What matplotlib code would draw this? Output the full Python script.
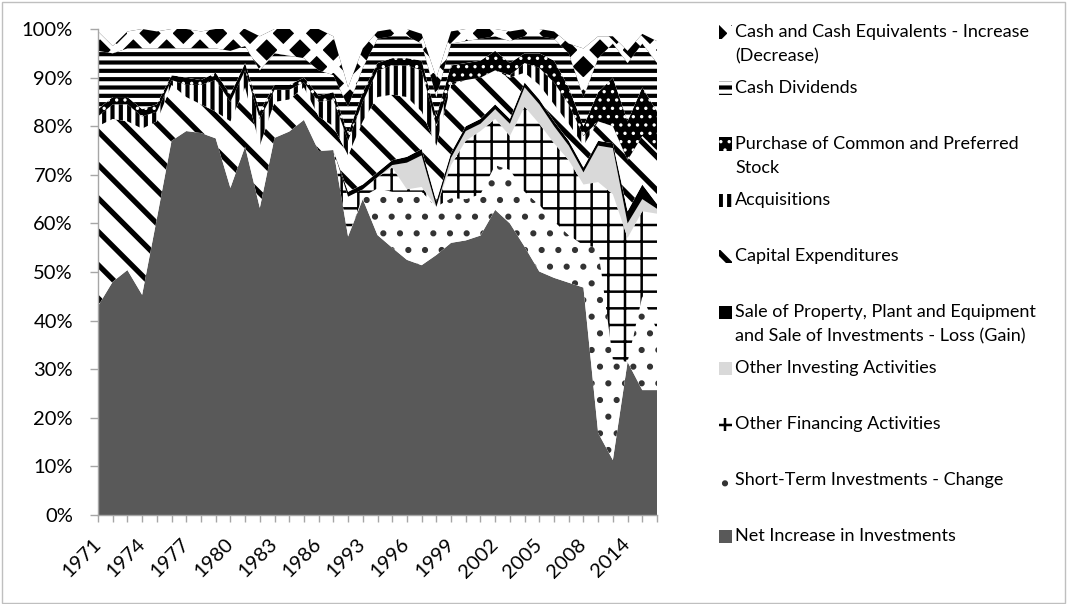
import numpy as np
import matplotlib
matplotlib.use("Agg")
from matplotlib import pyplot as plt
from matplotlib.patches import Rectangle

plt.rcParams["font.family"] = ["Lato", "DejaVu Sans"]

# categories (gaps in the original series: 1988-1991, 2009, 2011, 2013)
years = ["1971", "1972", "1973", "1974", "1975", "1976", "1977", "1978", "1979", "1980",
         "1981", "1982", "1983", "1984", "1985", "1986", "1987", "1992", "1993", "1994",
         "1995", "1996", "1997", "1998", "1999", "2000", "2001", "2002", "2003", "2004",
         "2005", "2006", "2007", "2008", "2010", "2012", "2014", "2015", "2016"]

# share of total, percent
net_investments = [43, 48, 50.4, 45.3, 61, 77, 79, 78.6, 77.5, 67.3, 75.8, 63.2, 77.6, 78.9, 81.3, 74.9, 75.1,
                   57.3, 65, 57.6, 55, 52.5, 51.4, 53.5, 56, 56.5, 57.5, 62.8, 60, 55.2, 50.1, 48.8, 47.8, 46.8,
                   16.9, 11.3, 31.5, 25.7, 25.7]
short_term_change = [0, 0, 0, 0, 0, 0, 0, 0, 0, 0, 0, 0, 0, 0, 0, 0, 0,
                     0, 0.5, 9.6, 11.5, 14, 15.1, 9.9, 9.2, 8.5, 8.5, 9.2, 11, 11.3, 13.7, 11.6, 9.8, 8.7,
                     38.1, 20.7, 0, 19.3, 12.3]
other_financing = [0, 0, 0, 0, 0, 0, 0, 0, 0, 0, 0, 0, 0, 0, 0, 0, 0,
                   8.2, 1.5, 2.3, 5, 0.5, 1, 0, 6.8, 12, 13, 9.5, 7, 17.5, 16.7, 16.1, 15.4, 12.5,
                   13.5, 34, 25.5, 17.5, 24]
other_investing = [0, 0, 0, 0, 0, 0, 0, 0, 0, 0, 0, 0, 0, 0, 0, 0, 0,
                   0, 0, 0, 0.5, 5.5, 6.5, 0, 1.5, 2, 1.5, 2, 2.5, 4, 4, 3.5, 3, 2.5,
                   7.5, 9.5, 3, 2.5, 1]
sale_ppe = [0, 0, 0, 0, 0, 0, 0, 0, 0, 0, 0, 0, 0, 0, 0, 0, 0,
            1, 1, 1, 1, 1.2, 1.3, 1.1, 1, 1, 1, 1, 1, 1, 1, 1, 1, 1,
            1, 1, 2.5, 3, 1]
capex = [37, 33.5, 30.6, 34.2, 20, 11.5, 7, 5.9, 5.5, 13.7, 12.2, 12.8, 7.4, 6.6, 6.7, 7.1, 4.9,
         7.5, 13, 15.5, 13.5, 12.3, 7.7, 11.5, 14, 9.5, 8.5, 7, 8.5, 2, 3, 3.5, 3.5, 4.5,
         4, 3.5, 10.5, 10, 11]
acquisitions = [2, 3, 3.5, 2.5, 2, 1, 2.5, 4, 6.5, 4, 3.5, 5.5, 2.5, 2, 1, 3, 5.5,
                3, 4, 5.5, 6, 6.5, 8.5, 4, 0.5, 0, 0, 0, 0.5, 2, 3.5, 4.5, 4, 2,
                0, 0, 0, 0, 0]
purchase_stock = [1.5, 1.5, 1.5, 1.5, 1.5, 1, 1.5, 1, 1.5, 1.5, 1.5, 1.5, 1, 1, 1, 1.3, 1.5,
                  1.5, 2, 1.5, 1.5, 1.5, 2, 2, 3.5, 3.5, 3.5, 4, 2.5, 2, 3, 4.5, 3.5, 2,
                  6, 10, 8, 10, 8]
cash_dividends = [12, 9, 10, 12.5, 11.5, 5.5, 6, 6.5, 5, 9, 3.5, 8.5, 6.5, 6, 4, 5.2, 3.5,
                  5.5, 5, 5, 4.5, 4.5, 3.5, 4, 4.5, 4.5, 4.5, 3, 4.5, 3.5, 3.5, 4.5, 7, 6,
                  7, 7, 12, 9, 10]
cash_change = [4, 1.5, 3.5, 4, 3.5, 4, 4, 3.5, 4, 4.5, 3.5, 7, 5, 5.5, 6, 8.5, 8,
               4, 4, 1.5, 1.5, 1.5, 2, 4, 2.5, 2.5, 2, 1.5, 2, 1.5, 1.5, 1.5, 2, 10,
               4.5, 1.5, 2.5, 2, 4.5]

# bottom to top: label, values, face, hatch colour, hatch, hatch width
layers = [
    ("Net Increase in Investments", net_investments, "#595959", None, None, 0),
    ("Short-Term Investments - Change", short_term_change, "white", "#333333", ".", 2.0),
    ("Other Financing Activities", other_financing, "white", "black", "+", 1.8),
    ("Other Investing Activities", other_investing, "#d9d9d9", None, None, 0),
    ("Sale of Property, Plant and Equipment\nand Sale of Investments - Loss (Gain)", sale_ppe, "black", None, None, 0),
    ("Capital Expenditures", capex, "white", "black", "\\", 3.8),
    ("Acquisitions", acquisitions, "white", "black", "||", 3.0),
    ("Purchase of Common and Preferred\nStock", purchase_stock, "black", "white", "..", 1.2),
    ("Cash Dividends", cash_dividends, "white", "black", "--", 3.0),
    ("Cash and Cash Equivalents - Increase\n(Decrease)", cash_change, "black", "white", "x", 6.0),
]

W, H = 1068, 604
fig = plt.figure(figsize=(W / 100, H / 100), dpi=100)
ax = fig.add_axes([98 / W, 1 - 515 / H, (657 - 98) / W, (515 - 29) / H])


def add_hatch(artist, edge, hatch, hlw):
    if hatch:
        artist.set_edgecolor(edge)
        artist.set_hatch(hatch)
        if hasattr(artist, "set_hatch_linewidth"):
            artist.set_hatch_linewidth(hlw)


x = np.arange(len(years))
base = np.zeros(len(years))
for label, vals, face, edge, hatch, hlw in layers:
    top = base + np.asarray(vals, dtype=float)
    with plt.rc_context({"hatch.linewidth": hlw if hatch else 1.0}):
        coll = ax.fill_between(x, base, top, facecolor=face, linewidth=0)
        add_hatch(coll, edge, hatch, hlw)
    base = top

ax.set_xlim(0, len(years) - 1)
ax.set_ylim(0, 100)
axis_gray = "#a6a6a6"
for side in ["top", "right"]:
    ax.spines[side].set_visible(False)
for side in ["left", "bottom"]:
    ax.spines[side].set_color(axis_gray)
    ax.spines[side].set_linewidth(1.0)

ax.set_yticks(np.arange(0, 101, 10))
ax.set_yticklabels([f"{v}%" for v in range(0, 101, 10)], fontsize=14.5)
ax.tick_params(axis="y", length=6, width=1, color=axis_gray, pad=12)
ax.set_xticks(x)
ax.set_xticklabels([y if i % 3 == 0 else "" for i, y in enumerate(years)], fontsize=14.5,
                   rotation=45, ha="right", va="center", rotation_mode="anchor")
ax.tick_params(axis="x", length=5, width=1, color=axis_gray, pad=14)

# legend drawn by hand, Excel style: top series first
for k, (label, vals, face, edge, hatch, hlw) in enumerate(reversed(layers)):
    yc = 32 + 56 * k
    with plt.rc_context({"hatch.linewidth": hlw if hatch else 1.0}):
        box = Rectangle((719 / W, 1 - (yc + 6.5) / H), 13 / W, 13 / H, transform=fig.transFigure,
                        facecolor=face, linewidth=0)
        add_hatch(box, edge, hatch, hlw)
        fig.add_artist(box)
    for j, line in enumerate(label.split("\n")):
        fig.text(735 / W, 1 - (yc + 24 * j) / H, line, fontsize=13, ha="left", va="center")

fig.add_artist(Rectangle((2 / W, 1 / H), (W - 5) / W, (H - 3) / H, transform=fig.transFigure,
                         fill=False, edgecolor="#bfbfbf", linewidth=1))

fig.savefig("out.png", dpi=100)
